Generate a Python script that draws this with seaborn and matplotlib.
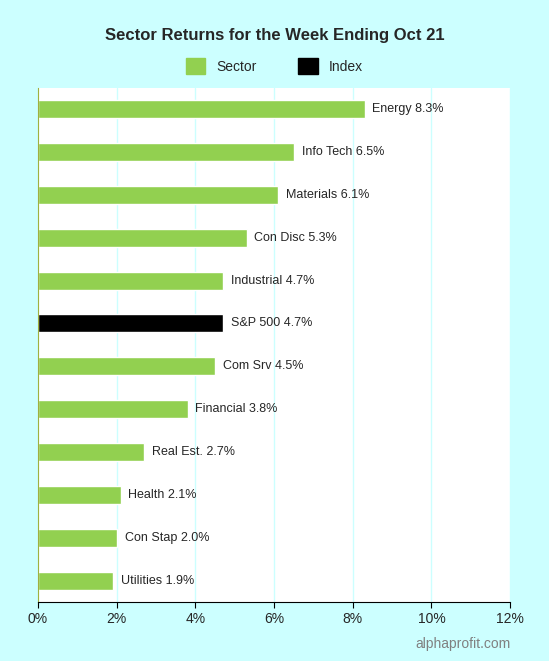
import matplotlib
matplotlib.use("Agg")
import matplotlib.pyplot as plt
import seaborn as sns
import pandas as pd
from matplotlib.patches import Patch

# ── data ─────────────────────────────────────────────
sectors = ["Energy", "Info Tech", "Materials", "Con Disc", "Industrial", "S&P 500",
           "Com Srv", "Financial", "Real Est.", "Health", "Con Stap", "Utilities"]
returns = [8.3, 6.5, 6.1, 5.3, 4.7, 4.7, 4.5, 3.8, 2.7, 2.1, 2.0, 1.9]
kinds = ["Sector"] * 5 + ["Index"] + ["Sector"] * 6

df = pd.DataFrame({"name": sectors, "ret": returns, "kind": kinds})
palette = {"Sector": "#92d050", "Index": "#000000"}

sns.set_style("white")
plt.rcParams["font.family"] = ["Liberation Sans", "DejaVu Sans"]

fig = plt.figure(figsize=(5.49, 6.61), dpi=100)
fig.patch.set_facecolor("#ccffff")
ax = fig.add_axes([0.0692, 0.0893, 0.860, 0.778])
ax.set_facecolor("white")

sns.barplot(data=df, x="ret", y="name", hue="kind", palette=palette,
            width=0.42, dodge=False, legend=False, ax=ax, saturation=1)

for i, (n, r) in enumerate(zip(sectors, returns)):
    ax.text(r + 0.2, i, f"{n} {r:.1f}%", va="center", ha="left", fontsize=9)

ax.set_xlim(0, 12)
ax.set_ylim(11.5, -0.5)
ax.set_xticks(range(0, 13, 2))
ax.set_xticklabels([f"{t}%" for t in range(0, 13, 2)], fontsize=10)
ax.set_yticks([])
ax.set_xlabel("")
ax.set_ylabel("")
ax.grid(axis="x", color="#ccffff", linewidth=1)
ax.set_axisbelow(True)
for s in ["top", "right"]:
    ax.spines[s].set_visible(False)
ax.spines["left"].set_color("#a0b040")
ax.spines["bottom"].set_color("black")
ax.tick_params(axis="x", length=4, color="black", bottom=True)

fig.text(0.5, 0.947, "Sector Returns for the Week Ending Oct 21",
         ha="center", va="center", fontsize=12, fontweight="bold")
handles = [Patch(color="#92d050", label="Sector"), Patch(color="black", label="Index")]
fig.legend(handles=handles, loc="center", bbox_to_anchor=(0.5, 0.9), ncol=2,
           frameon=False, fontsize=10, handlelength=1.4, handleheight=1.4,
           columnspacing=3)
fig.text(0.93, 0.025, "alphaprofit.com", ha="right", va="center",
         fontsize=10, color="#808080")

fig.savefig("out.png", dpi=100, facecolor=fig.get_facecolor())
